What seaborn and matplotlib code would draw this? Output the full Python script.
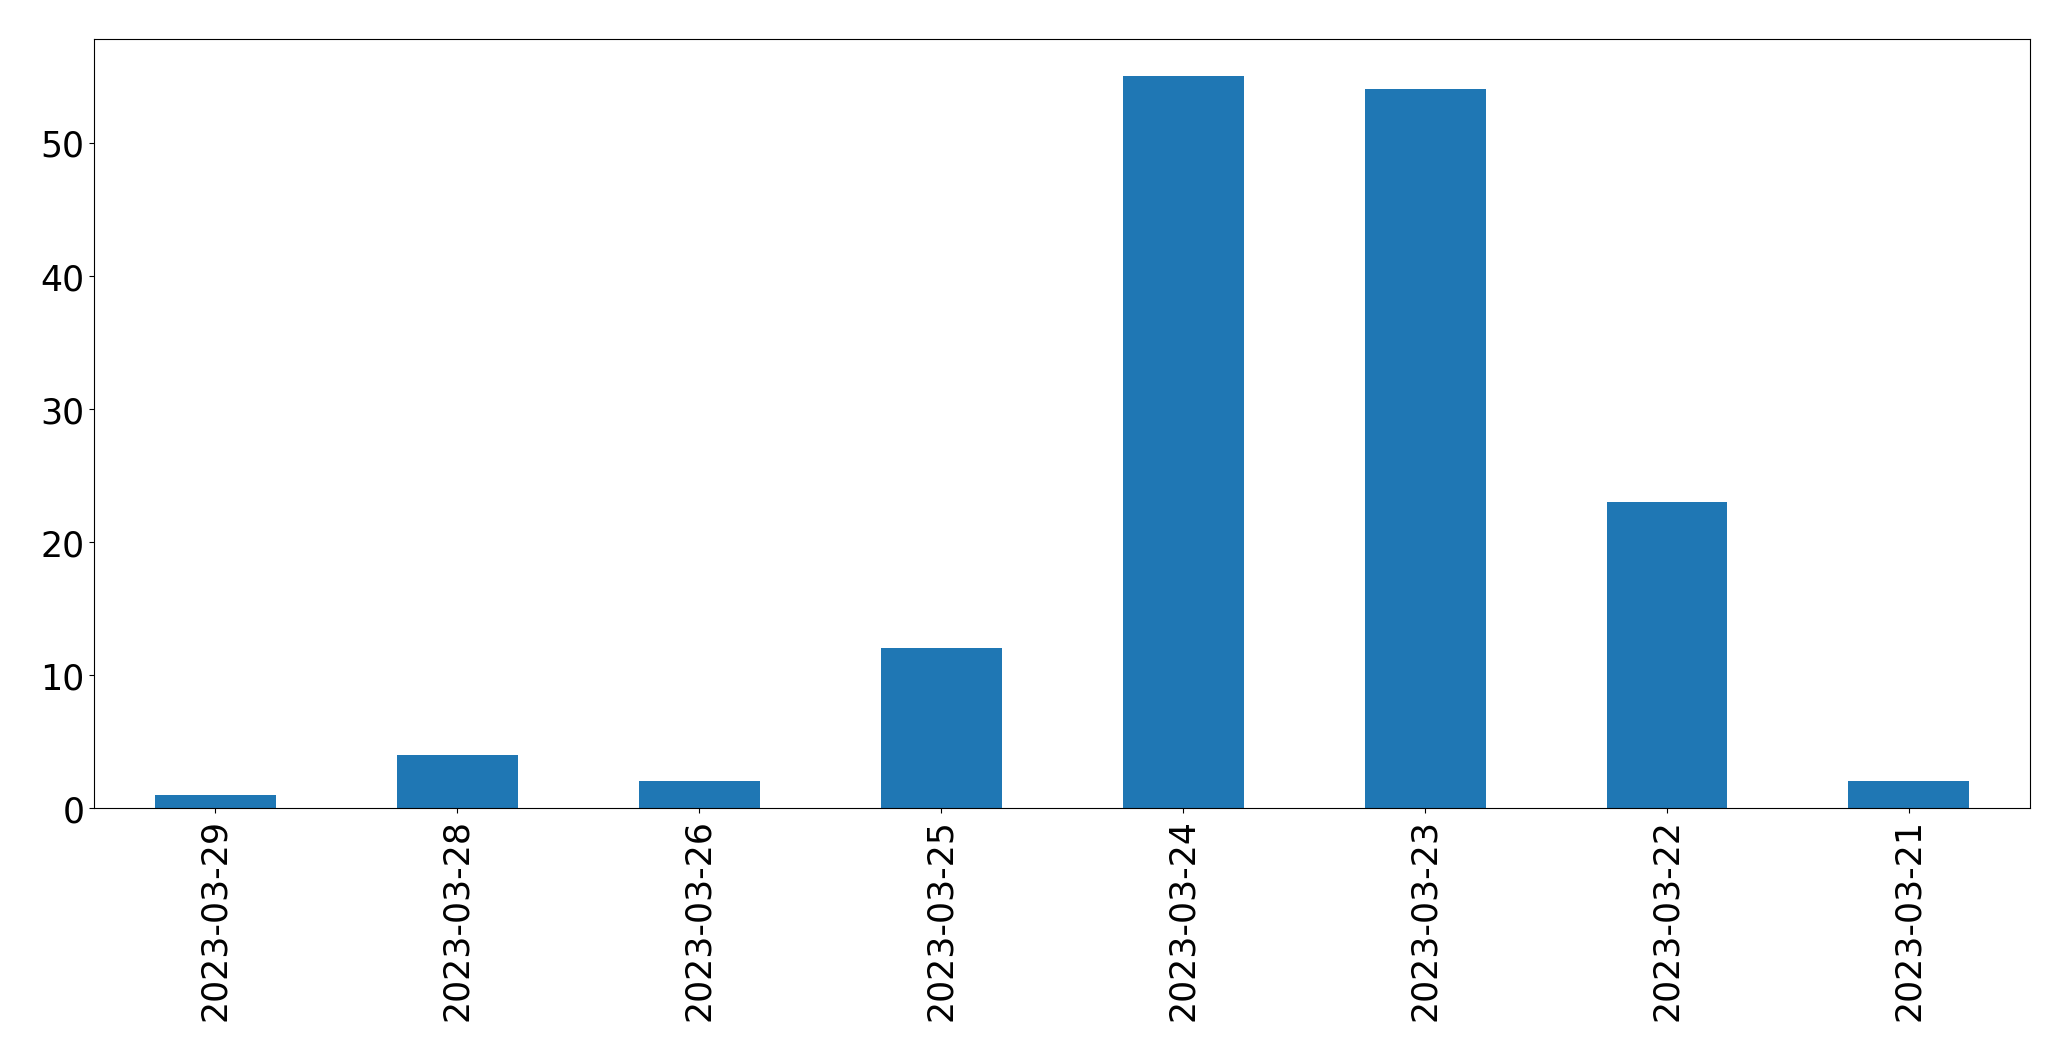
import matplotlib
matplotlib.use("Agg")
import matplotlib.pyplot as plt
import pandas as pd
import seaborn as sns

dates = ['2023-03-29', '2023-03-28', '2023-03-26', '2023-03-25',
         '2023-03-24', '2023-03-23', '2023-03-22', '2023-03-21']
counts = [1, 4, 2, 12, 55, 54, 23, 2]


def main():
    df = pd.DataFrame({'date': dates, 'count': counts})

    fig = plt.figure(figsize=(20.71, 10.609), dpi=100)
    ax = fig.add_axes([0.0454, 0.2375, 0.9348, 0.7245])

    sns.barplot(data=df, x='date', y='count', color='#1f77b4', width=0.5,
                saturation=1, linewidth=0, ax=ax)

    ax.set_xlim(-0.5, len(dates) - 0.5)
    ax.set_ylim(0, max(counts) * 1.05)
    ax.set_xlabel('')
    ax.set_ylabel('')
    ax.tick_params(axis='both', labelsize=25)
    plt.setp(ax.get_xticklabels(), rotation=90)

    fig.savefig('out.png', dpi=100)


if __name__ == '__main__':
    main()
